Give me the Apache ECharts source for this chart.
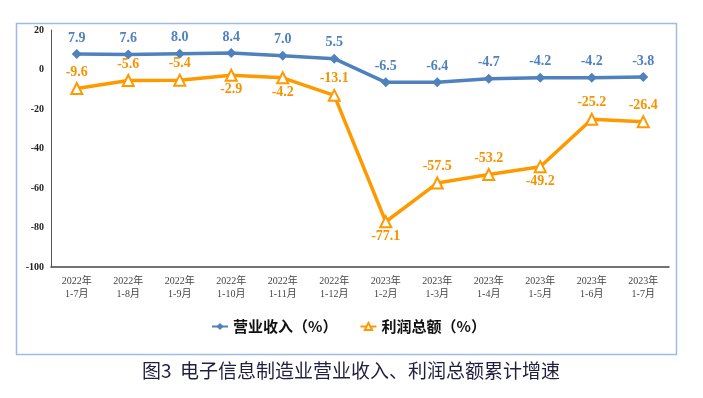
<!DOCTYPE html>
<html><head><meta charset="utf-8">
<script src="https://cdn.jsdelivr.net/npm/echarts@6/dist/echarts.min.js"></script>
<style>html,body{margin:0;padding:0;background:#fff}#c{width:703px;height:398px}</style>
</head><body><div id="c"></div>
<script>
const categories = ['2022年\n1-7月','2022年\n1-8月','2022年\n1-9月','2022年\n1-10月','2022年\n1-11月','2022年\n1-12月','2023年\n1-2月','2023年\n1-3月','2023年\n1-4月','2023年\n1-5月','2023年\n1-6月','2023年\n1-7月'];
const revenue = [7.9, 7.6, 8.0, 8.4, 7.0, 5.5, -6.5, -6.4, -4.7, -4.2, -4.2, -3.8];
const profit = [-9.6, -5.6, -5.4, -2.9, -4.2, -13.1, -77.1, -57.5, -53.2, -49.2, -25.2, -26.4];
const profitLabelPos = ['top','top','top','bottom','bottom','top','bottom','top','top','bottom','top','top'];
const yTicks = {min: -100, max: 20, interval: 20};

const chart = echarts.init(document.getElementById('c'));
const serif = "'Liberation Serif','Times New Roman','Noto Sans CJK SC',serif";
const fmt1 = p => Number(p.value).toFixed(1);
chart.setOption({
  animation: false,
  title: {
    text: '图3  电子信息制造业营业收入、利润总额累计增速',
    left: 137, top: 356,
    textStyle: {fontSize: 19, fontWeight: 'normal', color: '#1f1f3f', fontFamily: "'Noto Sans CJK SC',sans-serif"}
  },
  graphic: [{
    type: 'rect', left: 14, top: 21,
    shape: {width: 660, height: 331},
    style: {fill: 'none', stroke: '#9dbbe3', lineWidth: 1.5}
  }],
  legend: {
    top: 314, left: 206, itemGap: 22, itemWidth: 16, itemHeight: 9,
    textStyle: {fontSize: 15, fontWeight: 'bold', color: '#111', fontFamily: "'Noto Sans CJK SC',sans-serif"},
    data: ['营业收入（%）', '利润总额（%）']
  },
  grid: {left: 51, right: 34, top: 30, bottom: 131},
  xAxis: {
    type: 'category', data: categories, boundaryGap: true,
    axisLine: {onZero: false, lineStyle: {color: '#444', width: 1.5}},
    axisTick: {show: false},
    axisLabel: {interval: 0, fontSize: 10, color: '#444', lineHeight: 13, margin: 8, fontFamily: serif}
  },
  yAxis: {
    type: 'value', min: yTicks.min, max: yTicks.max, interval: yTicks.interval,
    axisLine: {show: true, lineStyle: {color: '#555', width: 1}},
    axisTick: {show: false},
    splitLine: {show: false},
    axisLabel: {fontSize: 10, fontWeight: 'bold', color: '#222', margin: 7, fontFamily: serif}
  },
  series: [{
    name: '营业收入（%）', type: 'line', data: revenue,
    symbol: 'diamond', symbolSize: 10,
    lineStyle: {color: '#4f81bd', width: 3.5},
    itemStyle: {color: '#4f81bd'},
    label: {show: true, position: 'top', distance: 4, formatter: fmt1, color: '#4f81bd', fontSize: 14, fontWeight: 'bold', fontFamily: serif}
  }, {
    name: '利润总额（%）', type: 'line', data: profit.map((v, i) => ({value: v, label: {position: profitLabelPos[i], distance: profitLabelPos[i] === 'top' ? 3 : 1}})),
    symbol: 'triangle', symbolSize: 11,
    lineStyle: {color: '#ff9900', width: 3.5},
    itemStyle: {color: '#fff', borderColor: '#ff9900', borderWidth: 2},
    label: {show: true, formatter: fmt1, color: '#f59300', fontSize: 14, fontWeight: 'bold', fontFamily: serif}
  }]
});
</script></body></html>
